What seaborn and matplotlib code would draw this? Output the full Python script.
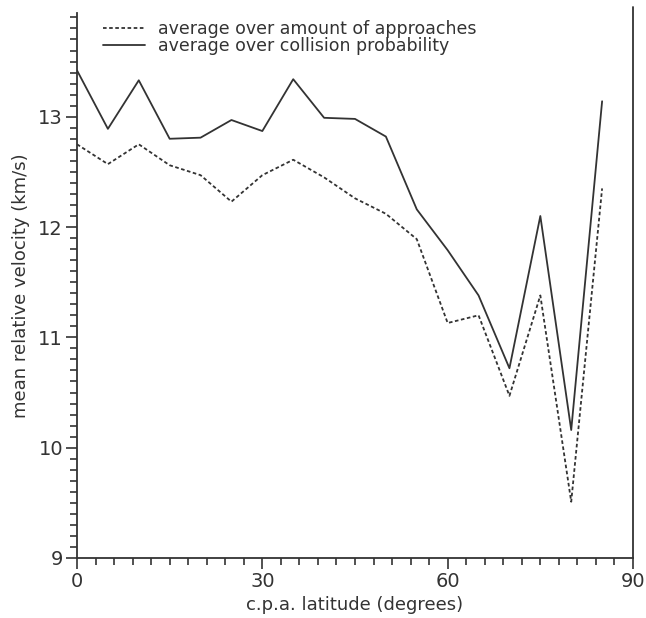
import matplotlib
matplotlib.use("Agg")
import matplotlib.pyplot as plt
import seaborn as sns
import pandas as pd
from matplotlib.ticker import MultipleLocator

latitude = [0, 5, 10, 15, 20, 25, 30, 35, 40, 45, 50, 55, 60, 65, 70, 75, 80, 85]
v_approaches = [12.75, 12.57, 12.75, 12.56, 12.47, 12.23, 12.47, 12.61, 12.45, 12.26,
                12.12, 11.89, 11.13, 11.20, 10.47, 11.38, 9.51, 12.35]
v_collision = [13.42, 12.89, 13.33, 12.80, 12.81, 12.97, 12.87, 13.34, 12.99, 12.98,
               12.82, 12.16, 11.79, 11.38, 10.72, 12.10, 10.16, 13.14]
label_a = "average over amount of approaches"
label_c = "average over collision probability"

df = pd.concat([
    pd.DataFrame({"lat": latitude, "v": v_approaches, "series": label_a}),
    pd.DataFrame({"lat": latitude, "v": v_collision, "series": label_c}),
])

sns.set_theme(style="white")
plt.rcParams["font.family"] = ["DejaVu Sans"]

fig = plt.figure(figsize=(6.46, 6.18), dpi=100)
ax = fig.add_axes([77/646, 1-558/618, (633-77)/646, (558-13)/618])

sns.lineplot(data=df, x="lat", y="v", style="series", color="#333333",
             dashes={label_a: (2, 1.4), label_c: ""}, linewidth=1.3, ax=ax,
             legend=True)

ax.set_xlim(0, 90)
ax.set_ylim(9, 13.94)
ax.xaxis.set_major_locator(MultipleLocator(30))
ax.xaxis.set_minor_locator(MultipleLocator(3))
ax.yaxis.set_major_locator(MultipleLocator(1))
ax.yaxis.set_minor_locator(MultipleLocator(0.1))
ax.tick_params(axis="both", which="major", direction="out", length=8, width=1.2,
               color="#333333", labelsize=14, labelcolor="#333333", pad=2,
               bottom=True, left=True)
ax.tick_params(axis="both", which="minor", direction="out", length=5, width=1.2,
               color="#333333", bottom=True, left=True)

for s in ["top", "right"]:
    ax.spines[s].set_visible(False)
for s in ["left", "bottom"]:
    ax.spines[s].set_color("#333333")
    ax.spines[s].set_linewidth(1.3)
ax.axvline(90, ymin=0, ymax=1.011, color="#333333", lw=1.3, clip_on=False)

ax.set_xlabel("c.p.a. latitude (degrees)", fontsize=13, color="#333333", labelpad=4)
ax.set_ylabel("mean relative velocity (km/s)", fontsize=13, color="#333333", labelpad=6)

leg = ax.legend(loc="upper left", bbox_to_anchor=(0.028, 1.006), frameon=False,
                fontsize=12.5, handlelength=2.4, handletextpad=0.75,
                labelspacing=-0.05, borderaxespad=0.2)
for t in leg.get_texts():
    t.set_color("#333333")

fig.savefig("out.png", dpi=100)
